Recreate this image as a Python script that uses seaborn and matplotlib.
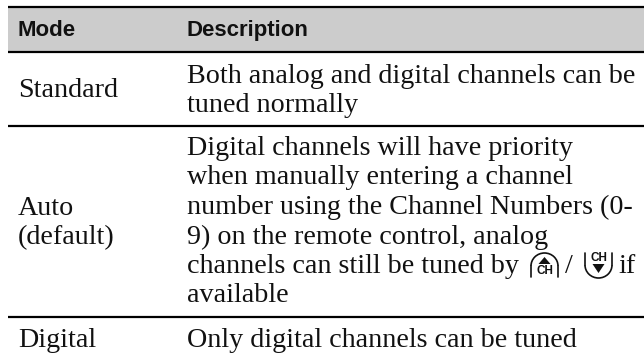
import matplotlib
matplotlib.use("Agg")
import matplotlib.pyplot as plt
from matplotlib.patches import Arc, Polygon
import seaborn as sns

headers = ["Mode", "Description"]
mode_standard = "Standard"
mode_auto = ["Auto", "(default)"]
mode_digital = "Digital"
desc_standard = ["Both analog and digital channels can be", "tuned normally"]
desc_auto = ["Digital channels will have priority",
             "when manually entering a channel",
             "number using the Channel Numbers (0-",
             "9) on the remote control, analog",
             "channels can still be tuned by",
             "available"]
desc_digital = "Only digital channels can be tuned"

sns.set_theme(style="white")
SERIF = ["Liberation Serif", "DejaVu Serif"]
HEAD = ["Liberation Sans", "DejaVu Sans"]
INK = "#111111"

fig, ax = plt.subplots(figsize=(6.44, 3.60), dpi=100)
ax.set_position([0, 0, 1, 1])
ax.set_xlim(0, 644)
ax.set_ylim(360, 0)
ax.axis("off")

ax.axhspan(7, 52, xmin=8 / 644, color="#cccccc", lw=0)
for y in (7, 52, 125.5, 317):
    ax.plot([8, 644], [y, y], color="black", lw=1.6, solid_capstyle="butt")

for x, s in zip((18, 187), headers):
    ax.text(x, 36, s, family=HEAD, weight="bold", fontsize=16, color=INK,
            va="baseline")


def put(x, y, s):
    ax.text(x, y, s, family=SERIF, fontsize=20.25, color=INK, va="baseline")


put(18, 97, mode_standard)
put(18, 215, mode_auto[0])
put(18, 244, mode_auto[1])
put(18, 347, mode_digital)

put(187, 83, desc_standard[0])
put(187, 112, desc_standard[1])
for y, s in zip((155, 184.5, 214, 243.5, 273, 302), desc_auto):
    put(187, y, s)
put(187, 347, desc_digital)
put(565, 273, "/")
put(618, 273, "if")


def small_ch(x, y):
    ax.text(x, y, "CH", family=HEAD, weight="bold", fontsize=8.5, color=INK,
            ha="center", va="center")


# channel-up key
ax.add_patch(Arc((544.5, 266), 27, 26, theta1=180, theta2=360, color=INK, lw=1.2))
ax.plot([531, 531], [266, 277], color=INK, lw=1.2)
ax.plot([558, 558], [266, 277], color=INK, lw=1.2)
ax.add_patch(Polygon([(544.5, 257), (538.5, 264), (550.5, 264)], color=INK, lw=0))
small_ch(544.5, 271.5)

# channel-down key
ax.add_patch(Arc((598.5, 265), 27, 26, theta1=0, theta2=180, color=INK, lw=1.2))
ax.plot([585, 585], [253, 265], color=INK, lw=1.2)
ax.plot([612, 612], [253, 265], color=INK, lw=1.2)
ax.add_patch(Polygon([(598.5, 273), (592.5, 264), (604.5, 264)], color=INK, lw=0))
small_ch(598.5, 258)

fig.savefig("out.png", dpi=100)
